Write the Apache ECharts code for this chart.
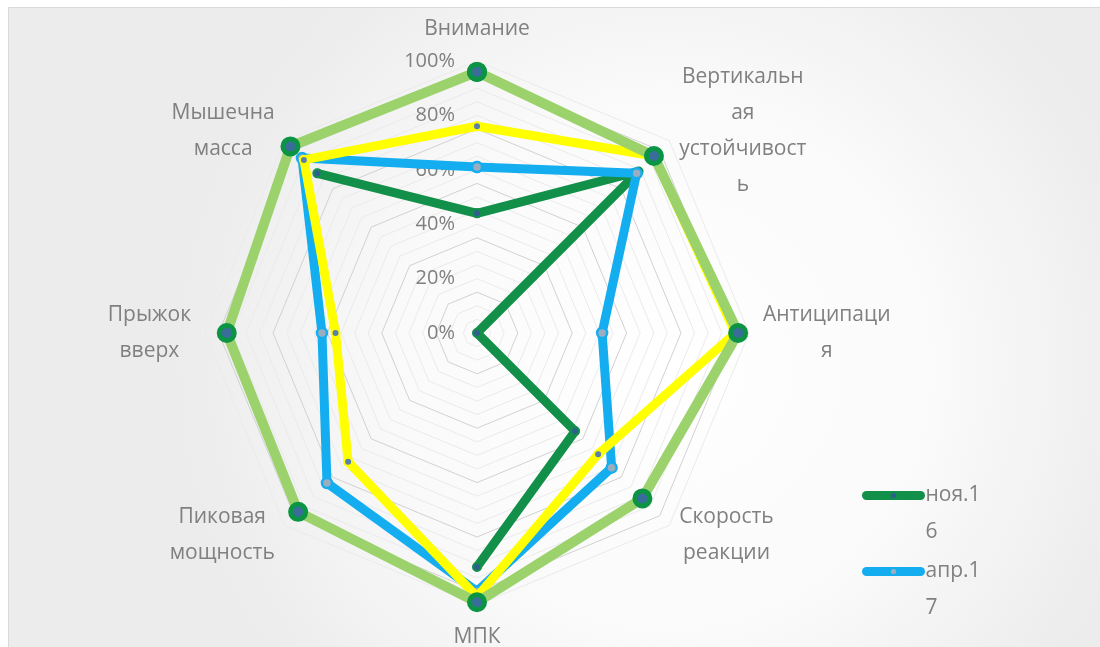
<!DOCTYPE html>
<html>
<head>
<meta charset="utf-8">
<script src="https://cdn.jsdelivr.net/npm/echarts@6/dist/echarts.min.js"></script>
<style>
  html, body { margin: 0; padding: 0; background: #ffffff; }
  #chart { width: 1100px; height: 647px; }
</style>
</head>
<body>
<div id="chart"></div>
<script>
// axes, clockwise from the top (line breaks as in the original picture)
const categories = [
  'Внимание',
  'Вертикальн\nая\nустойчивост\nь',
  'Антиципаци\nя',
  'Скорость\nреакции',
  'МПК',
  'Пиковая\nмощность',
  'Прыжок\nвверх',
  'Мышечна\nмасса'
];

// percent values per axis, same order as categories (null = no data)
const nov16 = [44, 84, 0, 51, 86, null, null, 83];
const apr17 = [61, 83, 46, 70, 95, 78, 57, 91];
const series3 = [76, 92, 95, 63, 97, 67, 52, 90];
const series4 = [96, 92, 96, 86, 99, 93, 92, 97];

const radialTicks = [0, 20, 40, 60, 80, 100];

const CX = 477, CY = 333, R = 272;
const textGray = '#808080';

// radar goes counter-clockwise, so feed it the axes in reverse after the first one
const radarOrder = [0].concat(categories.map((c, i) => i).slice(1).reverse());

// polar line points: [radius, angle index], closed back to the first axis
const toPolar = (vals) => {
  const pts = vals.map((v, i) => [v == null ? '-' : v, i]);
  pts.push([vals[0], vals.length]);
  return pts;
};

const richLines = (txt) => txt.split('\n').map(l => '{c|' + l + '}').join('\n');

const myChart = echarts.init(document.getElementById('chart'));

myChart.setOption({
  animation: false,
  backgroundColor: '#ffffff',
  graphic: [{
    type: 'rect',
    left: 8,
    top: 7,
    z: -10,
    silent: true,
    shape: { width: 1100, height: 650 },
    style: {
      stroke: '#d9d9d9',
      lineWidth: 1,
      fill: new echarts.graphic.RadialGradient(0.6, 0.55, 0.75, [
        { offset: 0, color: '#ffffff' },
        { offset: 0.55, color: '#fafafa' },
        { offset: 1, color: '#ececec' }
      ])
    }
  }],
  radar: {
    center: [CX, CY],
    radius: R,
    startAngle: 90,
    shape: 'polygon',
    splitNumber: 20,
    nameGap: 14,
    indicator: radarOrder.map((idx, k) => {
      const ind = { name: categories[idx], min: 0, max: 100 };
      if (k === 0) {
        ind.axisLabel = { show: true };
      }
      return ind;
    }),
    axisName: {
      color: textGray,
      fontFamily: 'Open Sans',
      fontSize: 21,
      lineHeight: 36,
      formatter: (name) => richLines(name),
      rich: {
        c: { align: 'center', color: textGray, fontFamily: 'Open Sans', fontSize: 21, lineHeight: 36 }
      }
    },
    axisLine: { show: false },
    axisTick: { show: false },
    axisLabel: {
      show: false,
      color: textGray,
      fontFamily: 'Open Sans',
      fontSize: 20,
      margin: 22,
      showMinLabel: true,
      showMaxLabel: true,
      formatter: (v) => radialTicks.indexOf(Math.round(v)) >= 0 ? Math.round(v) + '%' : ''
    },
    splitLine: {
      lineStyle: {
        width: 1,
        color: ['#ebebeb', '#ebebeb', '#ebebeb', '#d2d2d2']
      }
    },
    splitArea: { show: false }
  },
  polar: {
    center: [CX, CY],
    radius: R
  },
  angleAxis: {
    type: 'value',
    min: 0,
    max: categories.length,
    startAngle: 90,
    clockwise: true,
    show: false
  },
  radiusAxis: {
    type: 'value',
    min: 0,
    max: 100,
    show: false
  },
  legend: {
    data: ['ноя.16', 'апр.17'],
    orient: 'vertical',
    left: 862,
    top: 440,
    padding: 0,
    itemWidth: 54,
    itemHeight: 9,
    itemGap: -35,
    lineStyle: { width: 9, cap: 'round' },
    // leading empty line keeps the first text line level with the icon
    formatter: (name) => '\n' + name.slice(0, 5) + '\n' + name.slice(5),
    textStyle: {
      color: textGray,
      fontFamily: 'Open Sans',
      fontSize: 21,
      lineHeight: 37
    }
  },
  series: [
    {
      name: 'ноя.16',
      type: 'line',
      coordinateSystem: 'polar',
      data: toPolar(nov16),
      connectNulls: false,
      symbol: 'circle',
      symbolSize: 8,
      lineStyle: { color: '#12904a', width: 9, cap: 'round', join: 'round' },
      itemStyle: { color: '#2f5f8f', borderColor: '#12904a', borderWidth: 2 },
      z: 2
    },
    {
      name: 'апр.17',
      type: 'line',
      coordinateSystem: 'polar',
      data: toPolar(apr17),
      symbol: 'circle',
      symbolSize: 10,
      lineStyle: { color: '#14aef0', width: 9, cap: 'round', join: 'round' },
      itemStyle: { color: '#9aaec0', borderColor: '#14aef0', borderWidth: 2.5 },
      z: 3
    },
    {
      name: 'Ряд3',
      type: 'line',
      coordinateSystem: 'polar',
      data: toPolar(series3),
      symbol: 'circle',
      symbolSize: 8,
      lineStyle: { color: '#ffff00', width: 9, cap: 'round', join: 'round' },
      itemStyle: { color: '#5a7fa8', borderColor: '#ffff00', borderWidth: 2 },
      z: 4
    },
    {
      name: 'Ряд4',
      type: 'line',
      coordinateSystem: 'polar',
      data: toPolar(series4),
      symbol: 'circle',
      symbolSize: 15,
      lineStyle: { color: '#9bd26c', width: 10, cap: 'round', join: 'round' },
      itemStyle: { color: '#3a6e9a', borderColor: '#0b9444', borderWidth: 5 },
      z: 5
    }
  ]
});
</script>
</body>
</html>
